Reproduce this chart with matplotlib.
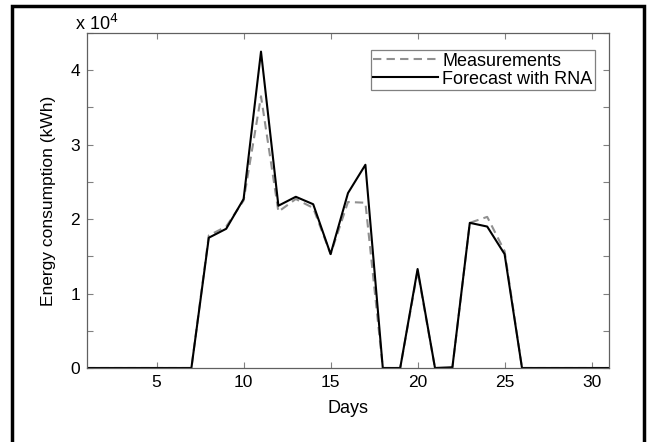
import numpy as np
import matplotlib.pyplot as plt
from matplotlib.patches import Rectangle
from matplotlib.ticker import MultipleLocator, FuncFormatter

plt.rcParams['font.family'] = ['Liberation Sans', 'DejaVu Sans']

# Daily energy consumption (x 10^4 kWh)
days = list(range(1, 32))
measurements = [0, 0, 0, 0, 0, 0, 0, 1.78, 1.90, 2.25, 3.65, 2.10, 2.27, 2.15, 1.53,
                2.23, 2.22, 0, 0, 1.30, 0, 0, 1.95, 2.03, 1.57, 0, 0, 0, 0, 0, 0]
forecast = [0, 0, 0, 0, 0, 0, 0, 1.75, 1.87, 2.27, 4.25, 2.18, 2.30, 2.20, 1.53,
            2.35, 2.73, 0, 0, 1.33, 0, 0.01, 1.95, 1.90, 1.53, 0, 0, 0, 0, 0, 0]

fig = plt.figure(figsize=(6.5, 4.42), dpi=100)
ax = fig.add_axes([87 / 650, 74 / 442, (609 - 87) / 650, (368 - 33) / 442])

ax.plot(days, measurements, color='#909090', linestyle=(0, (4, 2.5)), linewidth=1.5,
        label='Measurements')
ax.plot(days, forecast, color='black', linewidth=1.5, label='Forecast with RNA')

ax.set_xlim(1, 31)
ax.set_ylim(0, 4.5)
ax.xaxis.set_major_locator(MultipleLocator(5))
ax.yaxis.set_major_locator(MultipleLocator(0.5))
ax.yaxis.set_major_formatter(FuncFormatter(lambda v, p: f'{v:.0f}' if abs(v - round(v)) < 1e-6 else ''))
ax.tick_params(direction='in', top=True, right=True, length=4, width=0.8,
               color='#808080', labelsize=12.5, pad=5)
for s in ax.spines.values():
    s.set_color('#606060')
    s.set_linewidth(0.9)

ax.set_xlabel('Days', fontsize=13, labelpad=7)
ax.set_ylabel('Energy consumption (kWh)', fontsize=12.5, labelpad=10)
fig.text(75 / 650, 1 - 24 / 442, r'x 10$^4$', fontsize=13, va='center', ha='left')

leg = ax.legend(loc='upper right', bbox_to_anchor=(595 / 650, 1 - 50 / 442),
                bbox_transform=fig.transFigure, fontsize=13, frameon=True,
                fancybox=False, edgecolor='#606060', borderpad=0.15,
                handlelength=3.6, handletextpad=0.2, labelspacing=0.05, borderaxespad=0)
leg.get_frame().set_linewidth(0.9)

fig.patches.append(Rectangle((12 / 650, -0.05), (644 - 12) / 650, 1.05 - 6 / 442,
                             transform=fig.transFigure, fill=False, edgecolor='black',
                             linewidth=2.5))

fig.savefig('out.png', dpi=100)
